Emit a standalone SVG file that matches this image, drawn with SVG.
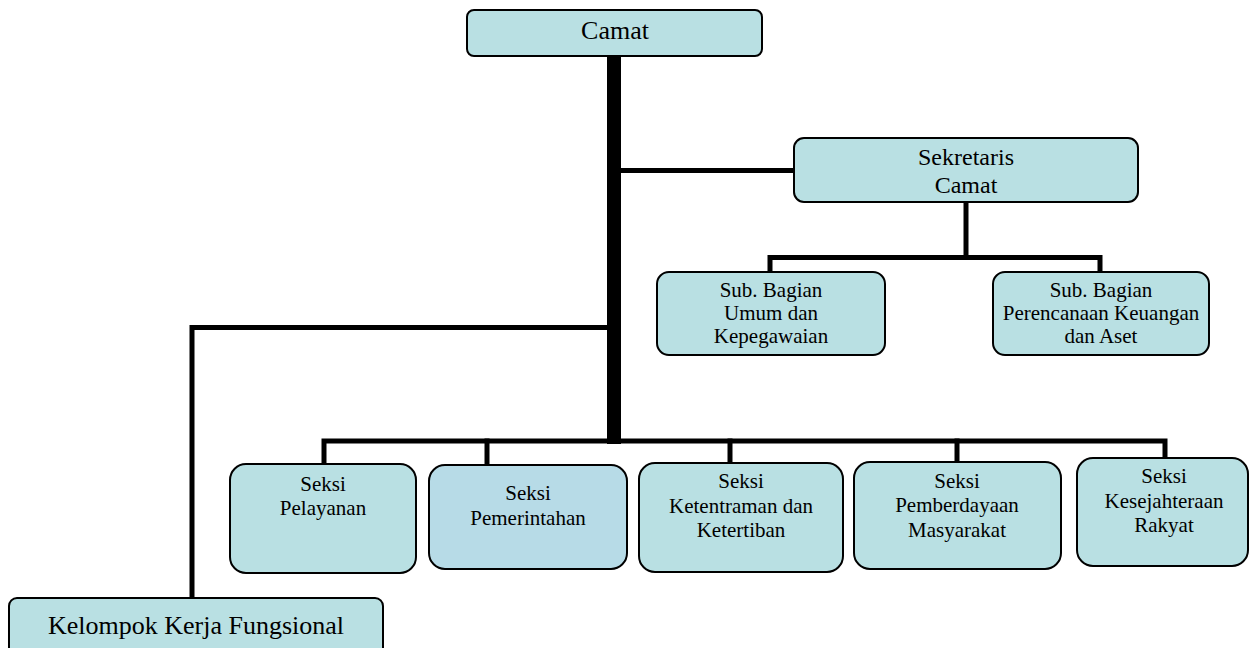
<svg xmlns="http://www.w3.org/2000/svg" width="1251" height="648" viewBox="0 0 1251 648">
<style>
.box{fill:#b9e0e3;stroke:#000;stroke-width:2}
.box2{fill:#b7dbe7;stroke:#000;stroke-width:2}
.lbl{font-family:'Liberation Serif','DejaVu Serif','Times New Roman',Times,serif;fill:#000;text-anchor:middle}
.t26{font-size:26px}
.t24{font-size:24px}
.t21{font-size:21px}
.ln{stroke:#000;stroke-width:5;fill:none;stroke-linecap:square}
</style>
<rect width="1251" height="648" fill="#fff"/>
<g id="connectors">
<line x1="614" y1="56" x2="614" y2="444" stroke="#000" stroke-width="14"/>
<line class="ln" x1="621" y1="170.5" x2="794" y2="170.5"/>
<polyline class="ln" points="607,327.5 192,327.5 192,598"/>
<line class="ln" x1="966" y1="202" x2="966" y2="257.5"/>
<polyline class="ln" points="770,272 770,257.5 1100,257.5 1100,272"/>
<polyline class="ln" points="324,464 324,441 1165,441 1165,458"/>
<line class="ln" x1="487" y1="441" x2="487" y2="465"/>
<line class="ln" x1="730" y1="441" x2="730" y2="463"/>
<line class="ln" x1="957" y1="441" x2="957" y2="462"/>
</g>
<g id="camat">
<rect class="box" x="467" y="10" width="295" height="46" rx="7"/>
<text class="lbl t26" x="615" y="39" font-family="Liberation Serif, serif">Camat</text>
</g>
<g id="sekretaris">
<rect class="box" x="794" y="138" width="344" height="64" rx="10"/>
<text class="lbl t24" x="966" y="165">Sekretaris</text>
<text class="lbl t24" x="966" y="193">Camat</text>
</g>
<g id="subbag-umum">
<rect class="box" x="657" y="272" width="228" height="83" rx="12"/>
<text class="lbl t21" x="771" y="297">Sub. Bagian</text>
<text class="lbl t21" x="771" y="320">Umum dan</text>
<text class="lbl t21" x="771" y="343">Kepegawaian</text>
</g>
<g id="subbag-perencanaan">
<rect class="box" x="993" y="272" width="216" height="83" rx="12"/>
<text class="lbl t21" x="1101" y="297">Sub. Bagian</text>
<text class="lbl t21" x="1101" y="320">Perencanaan Keuangan</text>
<text class="lbl t21" x="1101" y="343">dan Aset</text>
</g>
<g id="seksi-pelayanan">
<rect class="box" x="230" y="464" width="186" height="109" rx="16"/>
<text class="lbl t21" x="323" y="491">Seksi</text>
<text class="lbl t21" x="323" y="515">Pelayanan</text>
</g>
<g id="seksi-pemerintahan">
<rect class="box2" x="429" y="465" width="198" height="104" rx="16"/>
<text class="lbl t21" x="528" y="500">Seksi</text>
<text class="lbl t21" x="528" y="525">Pemerintahan</text>
</g>
<g id="seksi-ketentraman">
<rect class="box" x="639" y="463" width="204" height="109" rx="16"/>
<text class="lbl t21" x="741" y="488">Seksi</text>
<text class="lbl t21" x="741" y="513">Ketentraman dan</text>
<text class="lbl t21" x="741" y="537">Ketertiban</text>
</g>
<g id="seksi-pemberdayaan">
<rect class="box" x="854" y="462" width="207" height="107" rx="16"/>
<text class="lbl t21" x="957" y="488">Seksi</text>
<text class="lbl t21" x="957" y="512">Pemberdayaan</text>
<text class="lbl t21" x="957" y="537">Masyarakat</text>
</g>
<g id="seksi-kesejahteraan">
<rect class="box" x="1077" y="458" width="171" height="108" rx="16"/>
<text class="lbl t21" x="1164" y="483">Seksi</text>
<text class="lbl t21" x="1164" y="508">Kesejahteraan</text>
<text class="lbl t21" x="1164" y="532">Rakyat</text>
</g>
<g id="kelompok">
<rect class="box" x="9" y="598" width="374" height="60" rx="8"/>
<text class="lbl t26" x="196" y="634">Kelompok Kerja Fungsional</text>
</g>
</svg>
